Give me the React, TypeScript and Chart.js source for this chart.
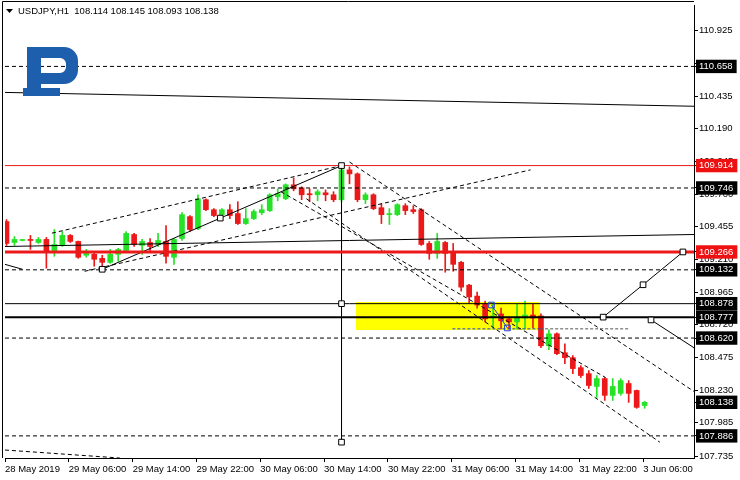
import React, { useEffect, useRef } from 'react';
import { Chart, registerables } from 'chart.js';

Chart.register(...registerables);

// ---------------- data ----------------
const titleText = 'USDJPY,H1  108.114 108.145 108.093 108.138';

const xTickLabels = [
  '28 May 2019', '29 May 06:00', '29 May 14:00', '29 May 22:00', '30 May 06:00',
  '30 May 14:00', '30 May 22:00', '31 May 06:00', '31 May 14:00', '31 May 22:00', '3 Jun 06:00',
];
const barsPerLabel = 8;

const opens = [
  109.494, 109.337, 109.352, 109.360, 109.337, 109.360, 109.263, 109.315, 109.390, 109.345,
  109.241, 109.248, 109.218, 109.188, 109.248, 109.278, 109.397, 109.315, 109.337, 109.322,
  109.345, 109.226, 109.367, 109.531, 109.442, 109.658, 109.583, 109.546, 109.583, 109.554,
  109.479, 109.516, 109.561, 109.576, 109.680, 109.665, 109.770, 109.747, 109.703, 109.695,
  109.710, 109.695, 109.658, 109.882, 109.852, 109.658, 109.695, 109.598, 109.546, 109.546,
  109.613, 109.583, 109.583, 109.330, 109.255, 109.337, 109.270, 109.188, 109.017, 108.935,
  108.875, 108.771, 108.801, 108.764, 108.741, 108.771, 108.793, 108.786, 108.562, 108.652,
  108.510, 108.473, 108.398, 108.353, 108.257, 108.316, 108.190, 108.205, 108.279, 108.227,
  108.114,
];
const highs = [
  109.509, 109.382, 109.360, 109.390, 109.375, 109.375, 109.434, 109.419, 109.397, 109.348,
  109.285, 109.263, 109.241, 109.285, 109.293, 109.419, 109.405, 109.360, 109.367, 109.405,
  109.464, 109.367, 109.561, 109.539, 109.695, 109.665, 109.591, 109.591, 109.621, 109.643,
  109.591, 109.583, 109.621, 109.703, 109.740, 109.777, 109.822, 109.755, 109.740, 109.732,
  109.732, 109.718, 109.914, 109.904, 109.859, 109.710, 109.703, 109.628, 109.591, 109.628,
  109.628, 109.613, 109.591, 109.345, 109.405, 109.345, 109.330, 109.196, 109.024, 108.965,
  108.898, 108.875, 108.845, 108.779, 108.875, 108.898, 108.875, 108.801, 108.681, 108.659,
  108.577, 108.488, 108.413, 108.376, 108.339, 108.324, 108.316, 108.316, 108.301, 108.230,
  108.145,
];
const lows = [
  109.315, 109.315, 109.349, 109.285, 109.330, 109.144, 109.233, 109.307, 109.337, 109.218,
  109.226, 109.159, 109.136, 109.181, 109.196, 109.270, 109.307, 109.248, 109.270, 109.307,
  109.181, 109.173, 109.352, 109.419, 109.434, 109.576, 109.531, 109.516, 109.516, 109.472,
  109.472, 109.509, 109.546, 109.569, 109.650, 109.658, 109.725, 109.658, 109.643, 109.650,
  109.650, 109.643, 109.643, 109.777, 109.643, 109.628, 109.583, 109.479, 109.472, 109.539,
  109.546, 109.554, 109.315, 109.211, 109.218, 109.114, 109.121, 108.972, 108.883, 108.845,
  108.741, 108.696, 108.689, 108.689, 108.689, 108.689, 108.696, 108.547, 108.532, 108.495,
  108.428, 108.353, 108.324, 108.242, 108.175, 108.152, 108.152, 108.190, 108.137, 108.093,
  108.093,
];
const closes = [
  109.330, 109.360, 109.356, 109.352, 109.360, 109.270, 109.322, 109.390, 109.345, 109.226,
  109.255, 109.211, 109.188, 109.248, 109.285, 109.405, 109.322, 109.345, 109.307, 109.352,
  109.233, 109.360, 109.546, 109.434, 109.665, 109.583, 109.539, 109.583, 109.539, 109.479,
  109.516, 109.569, 109.583, 109.695, 109.703, 109.770, 109.740, 109.695, 109.695, 109.718,
  109.695, 109.658, 109.882, 109.852, 109.658, 109.695, 109.591, 109.546, 109.554, 109.621,
  109.576, 109.569, 109.322, 109.255, 109.345, 109.255, 109.173, 109.002, 108.928, 108.868,
  108.764, 108.786, 108.749, 108.741, 108.779, 108.793, 108.771, 108.562, 108.652, 108.503,
  108.473, 108.391, 108.339, 108.264, 108.316, 108.190, 108.257, 108.301, 108.205, 108.100,
  108.138,
];

const priceGridTicks = [
  110.925, 110.680, 110.435, 110.190, 109.945, 109.700, 109.455, 109.210,
  108.965, 108.720, 108.475, 108.230, 107.985, 107.735,
];
const levelPrices = [110.658, 109.914, 109.746, 109.266, 109.132, 108.878, 108.777, 108.620, 107.886];
const redLevelPrices = [109.914, 109.266];
const lastPrice = 108.138;

// trend objects, points as [bar index, price]
const topTrend = [[-0.19, 110.463], [86.19, 110.359]];
const midTrend = [[-0.19, 109.307], [86.19, 109.397]];
const leftStub = [[-0.19, 109.173], [2, 109.136]];
const risingSolid = [[12, 109.136], [42, 109.914]];
const risingUpperDash = [[5.7, 109.407], [42, 109.914]];
const risingLowerDash = [[9.8, 109.121], [65.7, 109.882]];
const fallingDashA = [[43, 109.941], [86.19, 108.219]];
const fallingDashB = [[37.6, 109.665], [81.9, 107.839]];
const fallingDashC = [[34.4, 109.718], [75.1, 108.324]];
const bottomLeftDash = [[-0.19, 107.780], [14.2, 107.720]];
const peakVertical = [[42, 109.914], [42, 107.839]];
const forecastUp = [[74.8, 108.777], [79.8, 109.02], [84.8, 109.266]];
const forecastDown = [[80.8, 108.756], [86.19, 108.547]];
const boxBottomBlue = [[55.9, 108.689], [66.9, 108.689]];
const boxBottomGrey = [[66.9, 108.689], [78, 108.689]];
const waveBlue = [[60.8, 108.868], [62.8, 108.696]];
const anchorsBlack = [
  [42, 109.914], [42, 108.878], [42, 107.839], [12, 109.136], [26.8, 109.52],
  [74.8, 108.777], [79.8, 109.02], [84.8, 109.266], [80.8, 108.756],
];
const anchorsBlue = [[60.8, 108.868], [62.8, 108.696]];
const yellowBoxX = [43.8, 66.9];
const yellowBoxY = [108.681, 108.890];

// ---------------- styling ----------------
const X_MIN = -0.1875;
const X_MAX = 86.1875;
const Y_MIN = 107.7201;
const Y_MAX = 111.1188;
const GREEN = '#26e226';
const RED = '#eb1919';
const FONT = 'Liberation Sans';
const levelLook = ['dash', 'red', 'dash', 'redThick', 'dash', 'solid', 'thick', 'dash', 'dash'];

const near = (a: number, b: number) => Math.abs(a - b) < 1e-6;
const markedPrices = [...levelPrices, lastPrice];

function seg(pts: number[][], color: string, width: number, dash: number[], order = 1) {
  return {
    type: 'line',
    data: pts.map(([x, y]) => ({ x, y })),
    borderColor: color,
    borderWidth: width,
    borderDash: dash,
    pointRadius: 0,
    fill: false,
    tension: 0,
    order,
  };
}

const overlayPlugin = {
  id: 'overlay',
  afterDatasetsDraw(chart: any) {
    const ctx = chart.ctx;
    ctx.save();
    // logo
    ctx.fillStyle = '#1d5fad';
    ctx.beginPath();
    ctx.moveTo(27, 47);
    ctx.lineTo(64, 47);
    ctx.arcTo(78, 47, 78, 61, 14);
    ctx.lineTo(78, 70);
    ctx.arcTo(78, 84, 64, 84, 14);
    ctx.lineTo(41, 84);
    ctx.lineTo(41, 88);
    ctx.lineTo(27, 88);
    ctx.closePath();
    ctx.moveTo(41, 58);
    ctx.lineTo(60, 58);
    ctx.arcTo(66, 58, 66, 64, 6);
    ctx.lineTo(66, 67);
    ctx.arcTo(66, 73, 60, 73, 6);
    ctx.lineTo(41, 73);
    ctx.closePath();
    ctx.fill('evenodd');
    ctx.fillRect(23, 88, 37, 8);
    ctx.restore();
  },
  afterDraw(chart: any) {
    const ctx = chart.ctx;
    const a = chart.chartArea;
    ctx.save();
    ctx.strokeStyle = '#000';
    ctx.lineWidth = 1;
    ctx.beginPath();
    ctx.moveTo(2.5, 1.5);
    ctx.lineTo(a.right, 1.5);
    ctx.moveTo(2.5, 1.5);
    ctx.lineTo(2.5, a.bottom);
    ctx.stroke();
    // title
    ctx.fillStyle = '#000';
    ctx.beginPath();
    ctx.moveTo(6, 9);
    ctx.lineTo(13, 9);
    ctx.lineTo(9.5, 13);
    ctx.closePath();
    ctx.fill();
    ctx.font = `9.5px "${FONT}"`;
    ctx.textBaseline = 'middle';
    ctx.textAlign = 'left';
    ctx.fillText(titleText, 18, 11);
    ctx.restore();
  },
};

export default function App() {
  const ref = useRef<HTMLCanvasElement | null>(null);

  useEffect(() => {
    if (!ref.current) return;
    const barIndex = opens.map((_, i) => i);
    const colors = barIndex.map((i) => (closes[i] >= opens[i] ? GREEN : RED));

    const levelSets = levelPrices.map((p, k) => {
      const look = levelLook[k];
      const pts = [[X_MIN, p], [X_MAX, p]];
      if (look === 'red') return seg(pts, RED, 1, []);
      if (look === 'redThick') return seg(pts, RED, 3, []);
      if (look === 'solid') return seg(pts, '#000', 1, []);
      if (look === 'thick') return seg(pts, '#000', 2, []);
      return seg(pts, '#000', 1, [4, 3]);
    });

    const datasets: any[] = [
      {
        type: 'line',
        data: yellowBoxX.map((x) => ({ x, y: yellowBoxY[1] })),
        borderWidth: 0,
        pointRadius: 0,
        backgroundColor: '#ffff00',
        fill: { value: yellowBoxY[0] },
        order: 10,
      },
      {
        type: 'bar',
        data: barIndex.map((i) => ({ x: i, y: [lows[i], highs[i]] })),
        backgroundColor: colors,
        barThickness: 1,
        grouped: false,
        borderWidth: 0,
        order: 8,
      },
      {
        type: 'bar',
        data: barIndex.map((i) => ({ x: i, y: [opens[i], closes[i]] })),
        backgroundColor: colors,
        barThickness: 5,
        minBarLength: 1,
        grouped: false,
        borderWidth: 0,
        order: 7,
      },
      ...levelSets,
      seg(topTrend, '#000', 1, []),
      seg(midTrend, '#000', 1, []),
      seg(leftStub, '#000', 1, []),
      seg(risingSolid, '#000', 1, []),
      seg(risingUpperDash, '#000', 1, [4, 3]),
      seg(risingLowerDash, '#000', 1, [4, 3]),
      seg(fallingDashA, '#000', 1, [4, 3]),
      seg(fallingDashB, '#000', 1, [4, 3]),
      seg(fallingDashC, '#000', 1, [4, 3]),
      seg(bottomLeftDash, '#000', 1, [4, 3]),
      seg(peakVertical, '#000', 1, []),
      seg(forecastUp, '#000', 1, []),
      seg(forecastDown, '#000', 1, []),
      seg(boxBottomBlue, '#1f3fe0', 1, [3, 2]),
      seg(boxBottomGrey, '#555', 1, [3, 2]),
      seg(waveBlue, '#1f3fe0', 1, []),
      {
        type: 'line',
        data: anchorsBlack.map(([x, y]) => ({ x, y })),
        showLine: false,
        pointStyle: 'rect',
        pointRadius: 4,
        pointBorderWidth: 1,
        pointBorderColor: '#000',
        pointBackgroundColor: '#fff',
        order: 0,
      },
      {
        type: 'line',
        data: anchorsBlue.map(([x, y]) => ({ x, y })),
        showLine: false,
        pointStyle: 'rect',
        pointRadius: 4,
        pointBorderWidth: 1,
        pointBorderColor: '#1f3fe0',
        pointBackgroundColor: 'rgba(255,255,255,0)',
        order: 0,
      },
    ];

    const chart = new Chart(ref.current, {
      type: 'bar',
      data: { datasets },
      options: {
        responsive: false,
        maintainAspectRatio: false,
        animation: false,
        events: [],
        layout: { padding: { left: 3, top: 2, right: 0, bottom: 0 } },
        plugins: { legend: { display: false }, tooltip: { enabled: false } },
        scales: {
          x: {
            type: 'linear',
            position: 'bottom',
            min: X_MIN,
            max: X_MAX,
            offset: false,
            grid: { display: true, offset: false, drawOnChartArea: false, drawTicks: true, tickLength: 4, color: '#000' },
            border: { display: true, color: '#000', width: 1 },
            afterBuildTicks: (s: any) => {
              s.ticks = xTickLabels.map((_, k) => ({ value: X_MIN + k * barsPerLabel }));
            },
            afterFit: (s: any) => {
              s.height = 22;
              s.paddingLeft = 0;
              s.paddingRight = 0;
            },
            ticks: {
              autoSkip: false,
              maxRotation: 0,
              minRotation: 0,
              align: 'start',
              padding: 2,
              color: '#000',
              font: { family: FONT, size: 9.5 },
              callback: (v: any) => xTickLabels[Math.round((Number(v) - X_MIN) / barsPerLabel)] ?? '',
            },
          },
          y: {
            type: 'linear',
            position: 'right',
            min: Y_MIN,
            max: Y_MAX,
            grid: { display: true, drawOnChartArea: false, drawTicks: true, tickLength: 4, color: '#000' },
            border: { display: true, color: '#000', width: 1 },
            afterBuildTicks: (s: any) => {
              s.ticks = [...priceGridTicks, ...markedPrices].map((value) => ({ value }));
            },
            afterFit: (s: any) => {
              s.width = 46;
              s.paddingTop = 0;
              s.paddingBottom = 0;
            },
            ticks: {
              autoSkip: false,
              padding: 1,
              font: { family: FONT, size: 9.5 },
              color: (c: any) => (markedPrices.some((p) => near(p, c.tick?.value)) ? '#fff' : '#000'),
              showLabelBackdrop: (c: any) => markedPrices.some((p) => near(p, c.tick?.value)),
              backdropColor: (c: any) =>
                redLevelPrices.some((p) => near(p, c.tick?.value)) ? '#ee1111' : '#000',
              backdropPadding: { left: 3, right: 4, top: 1, bottom: 1 },
              callback: (v: any) => Number(v).toFixed(3),
            },
          },
        },
      } as any,
      plugins: [overlayPlugin],
    } as any);

    return () => chart.destroy();
  }, []);

  return (
    <div style={{ position: 'fixed', left: 0, top: 0, width: 740, height: 480, background: '#fff' }}>
      <canvas ref={ref} width={740} height={480} style={{ width: 740, height: 480, display: 'block' }} />
    </div>
  );
}
